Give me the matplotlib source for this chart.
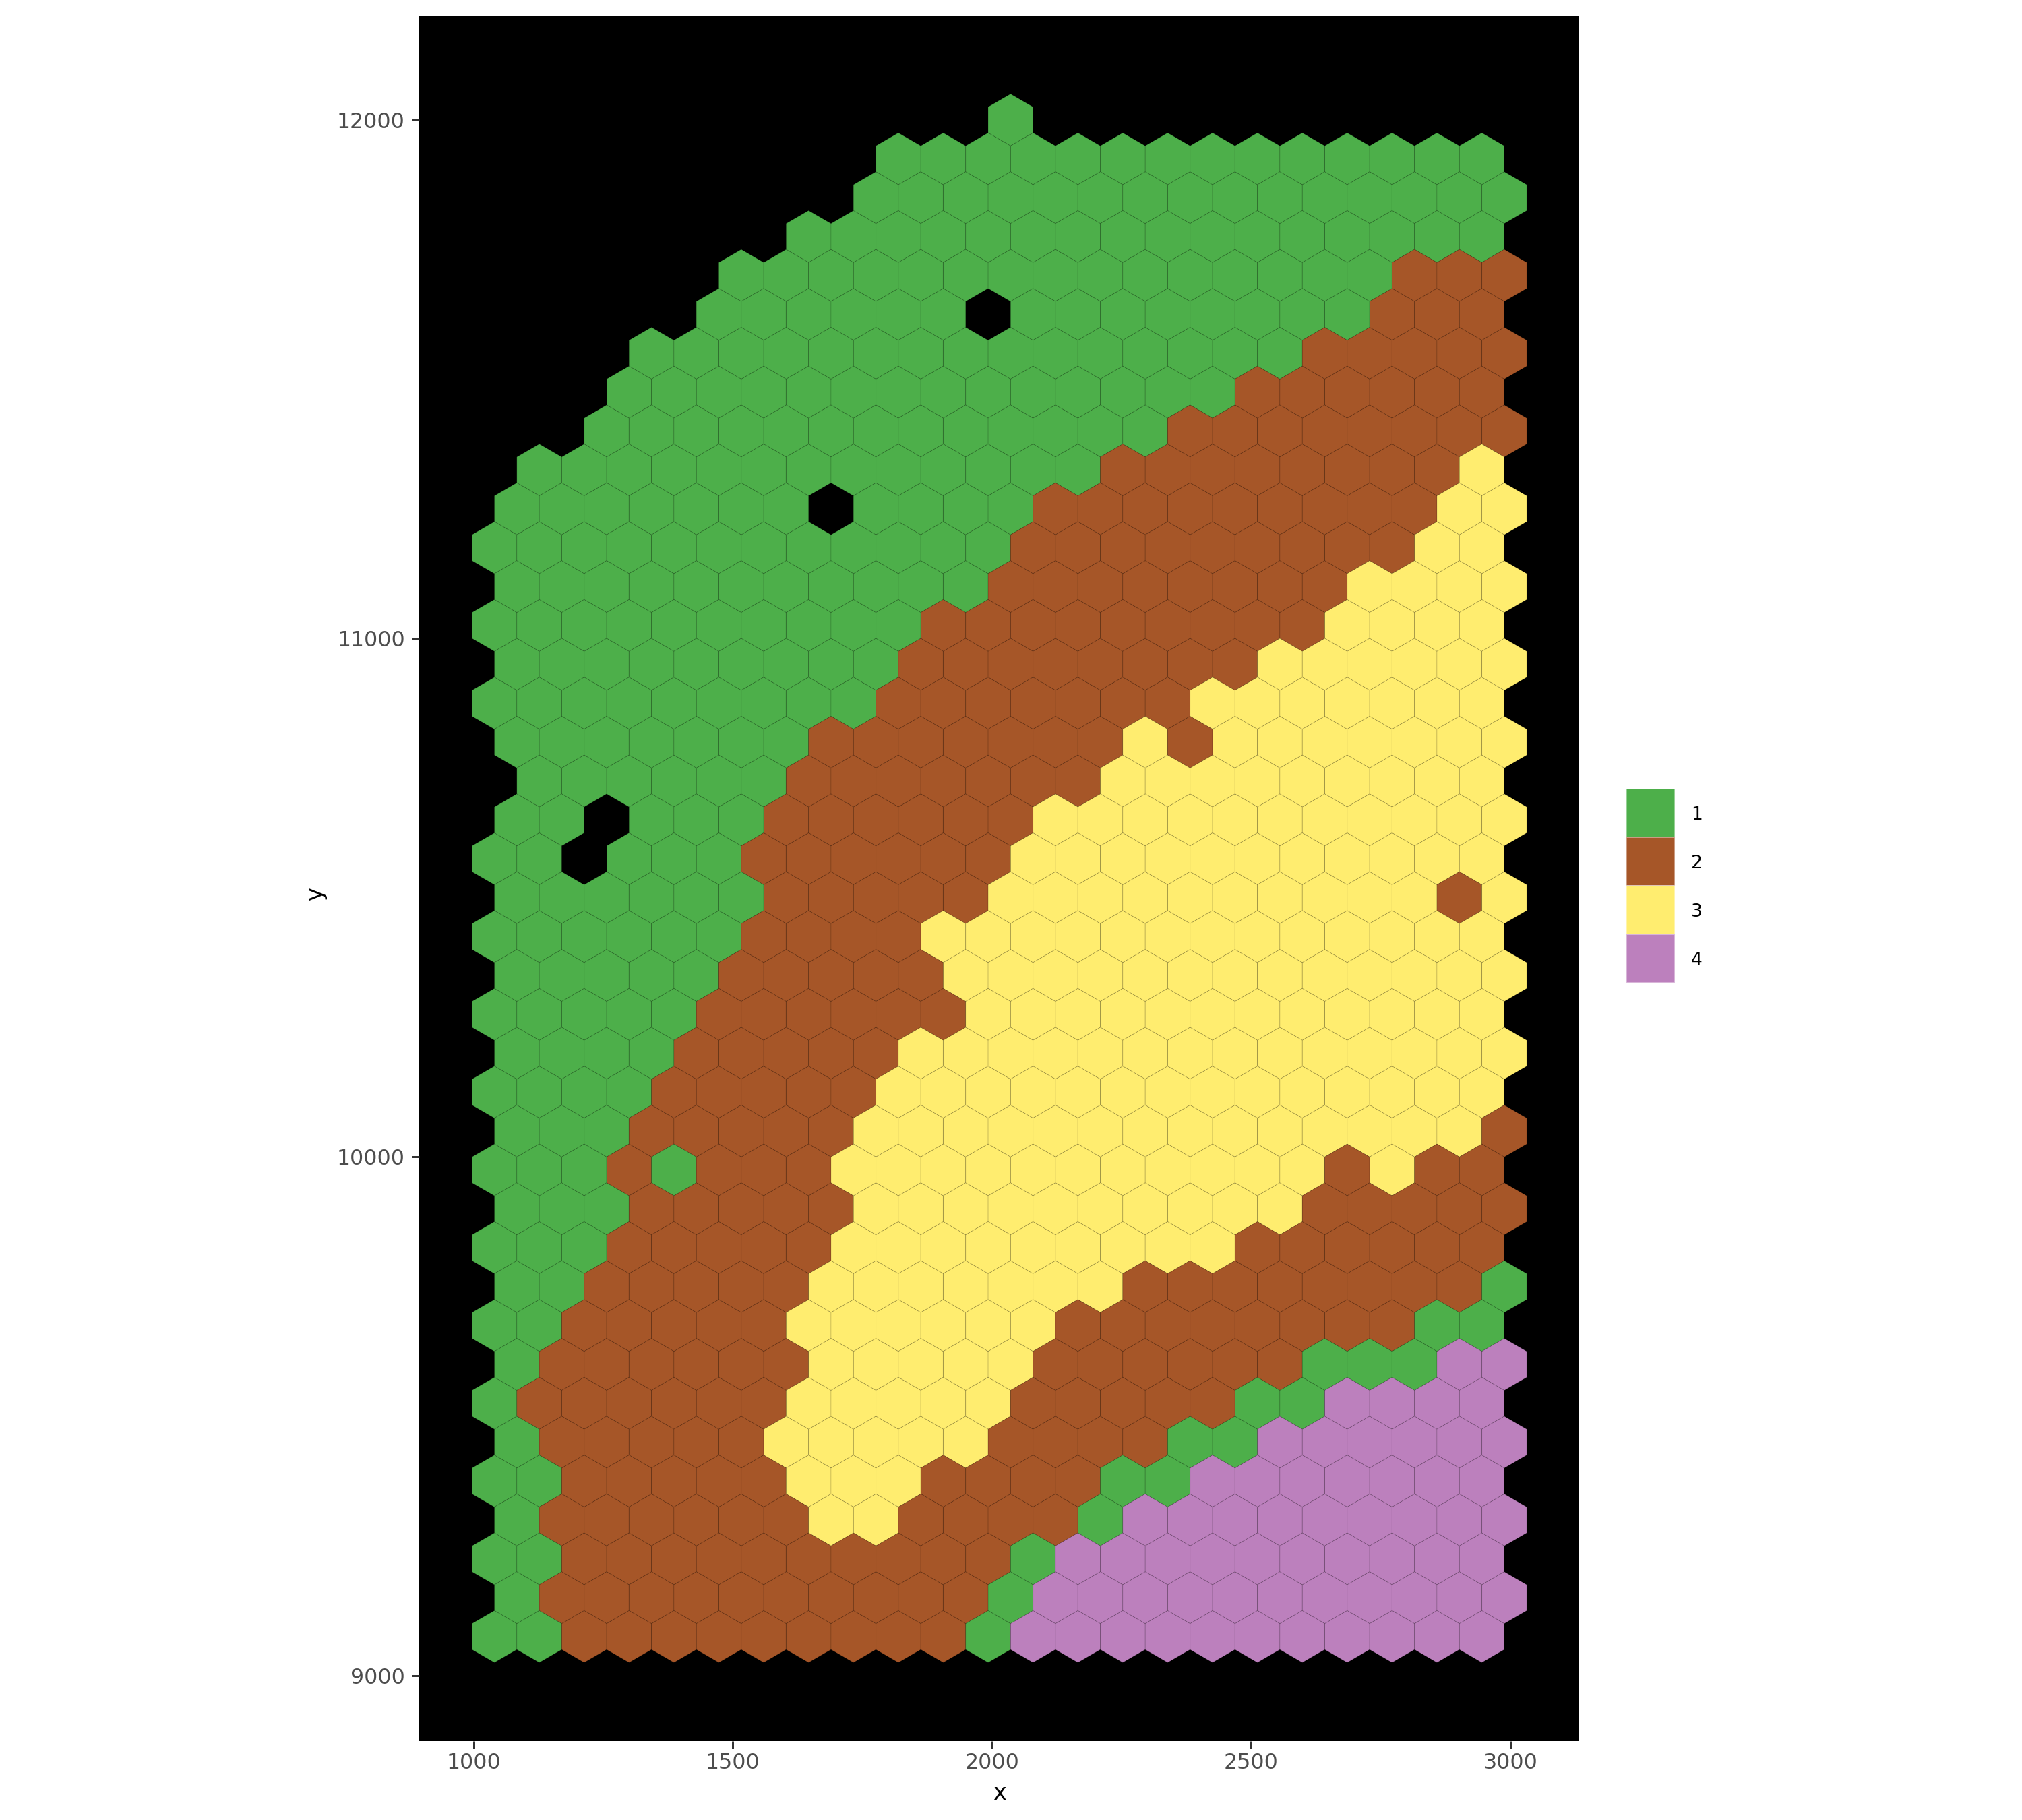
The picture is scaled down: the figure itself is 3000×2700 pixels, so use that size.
import numpy as np
import matplotlib
matplotlib.use('Agg')
import matplotlib.pyplot as plt
from matplotlib.patches import RegularPolygon, Rectangle
from matplotlib.collections import PatchCollection

# cluster label of every spot, one string per lattice row, top row first
# '.' = no spot there
spot_rows = [
    "...........1...........",
    ".........11111111111111",
    "........111111111111111",
    ".......1111111111111111",
    ".....111111111111111222",
    ".....111111.11111111222",
    "...11111111111111122222",
    "...11111111111111222222",
    "..111111111111122222222",
    ".1111111111111222222223",
    "1111111.111122222222233",
    "11111111111122222222233",
    "11111111111222222223333",
    "11111111112222222223333",
    "11111111122222222333333",
    "11111111122222223333333",
    "11111112222222323333333",
    ".1111112222222333333333",
    "11.11122222233333333333",
    "11.11122222233333333333",
    "11111122222333333333323",
    "11111122223333333333333",
    "11111222223333333333333",
    "11111222222333333333333",
    "11112222233333333333333",
    "11112222233333333333333",
    "11122222333333333333332",
    "11121222333333333332322",
    "11122222333333333322222",
    "11122222333333333222222",
    "11222223333333222222221",
    "11222223333332222222211",
    "12222223333322222211144",
    "12222223333322222114444",
    "12222233333222211444444",
    "11222223332222114444444",
    "12222223322221444444444",
    "11222222222214444444444",
    "12222222222144444444444",
    "11222222222144444444444",
]

clusters = ['1', '2', '3', '4']
cluster_colors = ['#4DAF4A', '#A65628', '#FFED6F', '#BC80BD']

# spot lattice (odd rows shifted by half a step)
x_start = 1040
x_step = 86.6
y_start = 9075
y_step = 75
hex_radius = 50

x_ticks = [1000, 1500, 2000, 2500, 3000]
y_ticks = [9000, 10000, 11000, 12000]

col_of = dict(zip(clusters, cluster_colors))

xs, ys, labs = [], [], []
n_rows = len(spot_rows)
for r, row in enumerate(spot_rows):
    k = n_rows - 1 - r
    for j, c in enumerate(row):
        if c == '.':
            continue
        xs.append(x_start + j * x_step + (k % 2) * x_step / 2)
        ys.append(y_start + k * y_step)
        labs.append(c)

fig = plt.figure(figsize=(10, 9), dpi=300)
ax = fig.add_axes([0.20733, 0.04344, 0.5738, 0.94804])
ax.set_facecolor('black')

hexes = [RegularPolygon((x, y), numVertices=6, radius=hex_radius, orientation=0)
         for x, y in zip(xs, ys)]
pc = PatchCollection(hexes, facecolors=[col_of[l] for l in labs],
                     edgecolors=(0, 0, 0, 0.11), linewidths=0.25)
ax.add_collection(pc)

# ggplot-like 5% expansion around the hexagons
xlo, xhi = min(xs) - x_step / 2, max(xs) + x_step / 2
ylo, yhi = min(ys) - hex_radius, max(ys) + hex_radius
ax.set_xlim(xlo - 0.05 * (xhi - xlo), xhi + 0.05 * (xhi - xlo))
ax.set_ylim(ylo - 0.05 * (yhi - ylo), yhi + 0.05 * (yhi - ylo))

for s in ax.spines.values():
    s.set_visible(False)
ax.set_xticks(x_ticks)
ax.set_yticks(y_ticks)
ax.tick_params(axis='both', length=2.76, width=0.72, color='#333333',
               labelcolor='#4D4D4D', labelsize=7.6)
ax.tick_params(axis='x', pad=1.3)
ax.tick_params(axis='y', pad=2.3)

ax.set_xlabel('x', fontsize=8)
ax.set_ylabel('y', fontsize=8)
ax.xaxis.set_label_coords(0.5, -0.0341)
ax.xaxis.label.set_va('baseline')
ax.yaxis.set_label_coords(-0.0839, 0.491)
ax.yaxis.label.set_rotation_mode('anchor')
ax.yaxis.label.set_va('baseline')
ax.yaxis.label.set_ha('center')

# legend
lax = fig.add_axes([0.80433, 0.46, 0.024, 0.10667])
lax.set_xlim(0, 1)
lax.set_ylim(0, len(clusters))
lax.axis('off')
for i, (lab, col) in enumerate(zip(clusters, cluster_colors)):
    yb = len(clusters) - 1 - i
    lax.add_patch(Rectangle((0, yb), 1, 1, facecolor=col,
                            edgecolor=(1, 1, 1, 0.5), linewidth=0.4))
    lax.text(1.33, yb + 0.5, lab, fontsize=6.4, color='black',
             ha='left', va='center_baseline')

fig.savefig('out.png', dpi=300, facecolor='white')
